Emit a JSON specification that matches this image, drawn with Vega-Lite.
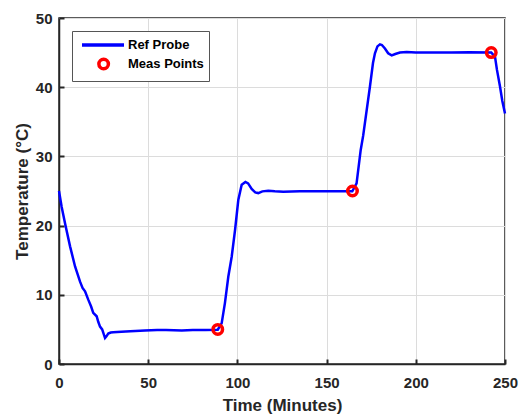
{
  "$schema": "https://vega.github.io/schema/vega-lite/v6.json",
  "width": 446,
  "height": 346,
  "autosize": {"type": "none"},
  "padding": {"left": 59, "top": 18, "right": 15, "bottom": 51},
  "background": "white",
  "datasets": {
    "probe": [
      {"t": 0, "temp": 25.0, "series": "Ref Probe"},
      {"t": 1.5, "temp": 22.7, "series": "Ref Probe"},
      {"t": 3.4, "temp": 20.3, "series": "Ref Probe"},
      {"t": 6.2, "temp": 17.0, "series": "Ref Probe"},
      {"t": 9.0, "temp": 14.1, "series": "Ref Probe"},
      {"t": 11.8, "temp": 11.9, "series": "Ref Probe"},
      {"t": 13.2, "temp": 11.0, "series": "Ref Probe"},
      {"t": 14.6, "temp": 10.5, "series": "Ref Probe"},
      {"t": 16.4, "temp": 9.3, "series": "Ref Probe"},
      {"t": 18.0, "temp": 8.3, "series": "Ref Probe"},
      {"t": 19.2, "temp": 7.4, "series": "Ref Probe"},
      {"t": 21.1, "temp": 6.9, "series": "Ref Probe"},
      {"t": 22.0, "temp": 6.1, "series": "Ref Probe"},
      {"t": 23.0, "temp": 5.4, "series": "Ref Probe"},
      {"t": 24.2, "temp": 5.0, "series": "Ref Probe"},
      {"t": 25.8, "temp": 3.75, "series": "Ref Probe"},
      {"t": 26.6, "temp": 4.0, "series": "Ref Probe"},
      {"t": 27.6, "temp": 4.4, "series": "Ref Probe"},
      {"t": 29.0, "temp": 4.55, "series": "Ref Probe"},
      {"t": 30.4, "temp": 4.6, "series": "Ref Probe"},
      {"t": 35.0, "temp": 4.66, "series": "Ref Probe"},
      {"t": 40.0, "temp": 4.75, "series": "Ref Probe"},
      {"t": 48.2, "temp": 4.85, "series": "Ref Probe"},
      {"t": 55.0, "temp": 4.9, "series": "Ref Probe"},
      {"t": 60.0, "temp": 4.92, "series": "Ref Probe"},
      {"t": 68.8, "temp": 4.85, "series": "Ref Probe"},
      {"t": 75.0, "temp": 4.9, "series": "Ref Probe"},
      {"t": 82.0, "temp": 4.9, "series": "Ref Probe"},
      {"t": 89.0, "temp": 4.95, "series": "Ref Probe"},
      {"t": 91.2, "temp": 5.9, "series": "Ref Probe"},
      {"t": 93.0, "temp": 8.8, "series": "Ref Probe"},
      {"t": 94.9, "temp": 12.6, "series": "Ref Probe"},
      {"t": 96.8, "temp": 15.5, "series": "Ref Probe"},
      {"t": 98.7, "temp": 19.4, "series": "Ref Probe"},
      {"t": 100.5, "temp": 23.7, "series": "Ref Probe"},
      {"t": 102.4, "temp": 25.9, "series": "Ref Probe"},
      {"t": 104.5, "temp": 26.3, "series": "Ref Probe"},
      {"t": 106.0, "temp": 26.1, "series": "Ref Probe"},
      {"t": 108.0, "temp": 25.3, "series": "Ref Probe"},
      {"t": 110.0, "temp": 24.8, "series": "Ref Probe"},
      {"t": 111.7, "temp": 24.7, "series": "Ref Probe"},
      {"t": 114.0, "temp": 24.95, "series": "Ref Probe"},
      {"t": 117.3, "temp": 25.05, "series": "Ref Probe"},
      {"t": 121.0, "temp": 24.95, "series": "Ref Probe"},
      {"t": 125.7, "temp": 24.9, "series": "Ref Probe"},
      {"t": 135.0, "temp": 24.95, "series": "Ref Probe"},
      {"t": 145.0, "temp": 24.95, "series": "Ref Probe"},
      {"t": 155.0, "temp": 24.95, "series": "Ref Probe"},
      {"t": 164.4, "temp": 24.95, "series": "Ref Probe"},
      {"t": 166.8, "temp": 26.1, "series": "Ref Probe"},
      {"t": 169.1, "temp": 30.9, "series": "Ref Probe"},
      {"t": 170.5, "temp": 33.0, "series": "Ref Probe"},
      {"t": 174.3, "temp": 40.1, "series": "Ref Probe"},
      {"t": 176.0, "temp": 43.5, "series": "Ref Probe"},
      {"t": 177.1, "temp": 44.9, "series": "Ref Probe"},
      {"t": 178.5, "temp": 45.9, "series": "Ref Probe"},
      {"t": 179.9, "temp": 46.2, "series": "Ref Probe"},
      {"t": 181.0, "temp": 46.1, "series": "Ref Probe"},
      {"t": 182.7, "temp": 45.6, "series": "Ref Probe"},
      {"t": 184.5, "temp": 44.9, "series": "Ref Probe"},
      {"t": 186.5, "temp": 44.6, "series": "Ref Probe"},
      {"t": 188.5, "temp": 44.8, "series": "Ref Probe"},
      {"t": 191.1, "temp": 45.0, "series": "Ref Probe"},
      {"t": 194.9, "temp": 45.1, "series": "Ref Probe"},
      {"t": 200.0, "temp": 45.0, "series": "Ref Probe"},
      {"t": 210.0, "temp": 45.0, "series": "Ref Probe"},
      {"t": 220.0, "temp": 45.0, "series": "Ref Probe"},
      {"t": 230.0, "temp": 45.05, "series": "Ref Probe"},
      {"t": 242.3, "temp": 45.0, "series": "Ref Probe"},
      {"t": 244.4, "temp": 44.4, "series": "Ref Probe"},
      {"t": 245.5, "temp": 42.5, "series": "Ref Probe"},
      {"t": 247.2, "temp": 40.1, "series": "Ref Probe"},
      {"t": 248.5, "temp": 38.0, "series": "Ref Probe"},
      {"t": 250.0, "temp": 36.2, "series": "Ref Probe"}
    ],
    "meas": [
      {"t": 89.0, "temp": 5.0, "series": "Meas Points"},
      {"t": 164.5, "temp": 25.0, "series": "Meas Points"},
      {"t": 242.3, "temp": 45.0, "series": "Meas Points"}
    ]
  },
  "config": {
    "font": "Liberation Sans",
    "view": {"stroke": "#262626", "strokeWidth": 1.5},
    "axis": {
      "labelFont": "Liberation Sans",
      "labelFontWeight": "bold",
      "labelFontSize": 15,
      "labelColor": "#262626",
      "labelFlush": false,
      "titleFont": "Liberation Sans",
      "titleFontWeight": "bold",
      "titleFontSize": 17,
      "titleColor": "#262626",
      "domainColor": "#262626",
      "domainWidth": 1.5,
      "ticks": true,
      "tickColor": "#262626",
      "tickWidth": 2,
      "tickSize": -5,
      "gridColor": "#dcdcdc",
      "gridWidth": 1,
      "gridOpacity": 1
    },
    "legend": {
      "orient": "top-left",
      "offset": 13,
      "padding": 5,
      "strokeColor": "#555555",
      "fillColor": "white",
      "labelFont": "Liberation Sans",
      "labelFontWeight": "bold",
      "labelFontSize": 13,
      "labelColor": "#000000",
      "symbolSize": 196,
      "labelOffset": 33,
      "rowPadding": 0
    }
  },
  "encoding": {
    "x": {
      "field": "t",
      "type": "quantitative",
      "scale": {"domain": [0, 250], "nice": false, "zero": false},
      "axis": {"title": "Time (Minutes)", "values": [0, 50, 100, 150, 200, 250], "labelPadding": 16, "titlePadding": 7}
    },
    "y": {
      "field": "temp",
      "type": "quantitative",
      "scale": {"domain": [0, 50], "nice": false},
      "axis": {"title": "Temperature (°C)", "values": [0, 10, 20, 30, 40, 50], "labelPadding": 12, "titlePadding": 4}
    },
    "color": {
      "field": "series",
      "type": "nominal",
      "scale": {"domain": ["Ref Probe", "Meas Points"], "range": ["#0000ff", "#ff0000"]},
      "legend": {
        "title": null,
        "encode": {
          "symbols": {
            "update": {
              "shape": {"signal": "datum.value === 'Ref Probe' ? 'M-0.571,0H5.429' : 'M3.2,0A0.68,0.68 0 1,1 1.84,0A0.68,0.68 0 1,1 3.2,0Z'"},
              "stroke": {"signal": "datum.value === 'Ref Probe' ? '#0000ff' : '#ff0000'"},
              "fill": {"value": "transparent"},
              "strokeWidth": {"value": 3.5},
              "size": {"value": 196},
              "opacity": {"value": 1}
            }
          }
        }
      }
    }
  },
  "layer": [
    {
      "data": {"name": "probe"},
      "mark": {"type": "line", "strokeWidth": 2.5}
    },
    {
      "data": {"name": "meas"},
      "mark": {"type": "point", "filled": false, "strokeWidth": 3.5, "size": 90, "opacity": 1}
    }
  ]
}
